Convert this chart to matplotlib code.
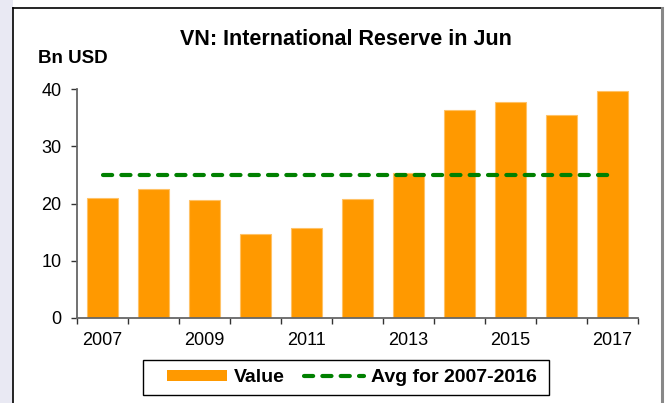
import numpy as np
import matplotlib
matplotlib.use("Agg")
import matplotlib.pyplot as plt
from matplotlib.patches import Rectangle, Patch
from matplotlib.lines import Line2D

plt.rcParams['font.family'] = ['Liberation Sans', 'DejaVu Sans']

years = [2007, 2008, 2009, 2010, 2011, 2012, 2013, 2014, 2015, 2016, 2017]
values = [21.0, 22.6, 20.6, 14.6, 15.8, 20.7, 25.3, 36.3, 37.8, 35.5, 39.7]
avg_years = [2007, 2016]
avg_value = np.mean(values[:10])  # average for 2007-2016

W, H = 669, 403
fig = plt.figure(figsize=(W / 100, H / 100), dpi=100)
fig.patch.set_facecolor('white')

# page background strip and chart frame
fig.add_artist(Rectangle((0, 0), 13 / W, 1, transform=fig.transFigure,
                         facecolor='#E9E9F3', edgecolor='none', zorder=0))
fig.add_artist(Line2D([13 / W, 13 / W], [0, 1 - 8 / H], transform=fig.transFigure,
                      color='black', lw=1.2))
fig.add_artist(Line2D([13 / W, 662 / W], [1 - 8 / H, 1 - 8 / H], transform=fig.transFigure,
                      color='black', lw=1.2))
fig.add_artist(Line2D([662 / W, 662 / W], [0, 1 - 8 / H], transform=fig.transFigure,
                      color='#888888', lw=2.2))

ax = fig.add_axes([77 / W, 1 - 318 / H, (638 - 77) / W, (318 - 89) / H])

x = np.arange(len(years))
ax.bar(x, values, width=0.59, color='#FF9900', edgecolor='#FFC266', linewidth=0.8, zorder=2)
ax.plot(x, [avg_value] * len(x), color='#008000', lw=3, dashes=(2.2, 2.2),
        dash_capstyle='round', zorder=3)

ax.set_xlim(-0.5, len(years) - 0.5)
ax.set_ylim(0, 40)
ax.set_yticks([0, 10, 20, 30, 40])
ax.tick_params(axis='y', direction='out', length=4.3, width=1, color='#333333',
               labelsize=13, pad=7)

ax.set_xticks(np.arange(-0.5, len(years), 1.0))
ax.set_xticklabels([])
ax.set_xticks(x[::2], minor=True)
ax.set_xticklabels([str(y) for y in years[::2]], minor=True)
ax.tick_params(axis='x', which='major', direction='out', length=4, width=1, color='#333333')
ax.tick_params(axis='x', which='minor', length=0, labelsize=13, pad=10)

for s in ['top', 'right']:
    ax.spines[s].set_visible(False)
for s in ['left', 'bottom']:
    ax.spines[s].set_color('#666666')
    ax.spines[s].set_linewidth(1.3)

fig.text(346 / W, 1 - 45 / H, 'VN: International Reserve in Jun', ha='center', va='baseline',
         fontsize=15.5, fontweight='bold')
fig.text(38 / W, 1 - 63 / H, 'Bn USD', ha='left', va='baseline',
         fontsize=13.5, fontweight='bold')

# legend with its own box
fig.add_artist(Rectangle((143 / W, 1 - 395 / H), (549 - 143) / W, (395 - 360) / H,
                         transform=fig.transFigure, facecolor='white', edgecolor='black',
                         lw=1.0, zorder=4))
handles = [Patch(facecolor='#FF9900', edgecolor='none'),
           Line2D([], [], color='#008000', lw=3, dashes=(2.2, 2.2), dash_capstyle='round')]
leg = fig.legend(handles, ['Value', 'Avg for 2007-' + str(avg_years[1])], loc='center',
                 bbox_to_anchor=(352 / W, 1 - 378 / H), ncol=2, frameon=False,
                 handlelength=3.1, handleheight=0.52, columnspacing=1.0,
                 handletextpad=0.36, borderpad=0.2,
                 prop={'weight': 'bold', 'size': 14})
leg.set_zorder(5)

fig.savefig('out.png', dpi=100, facecolor=fig.get_facecolor())
